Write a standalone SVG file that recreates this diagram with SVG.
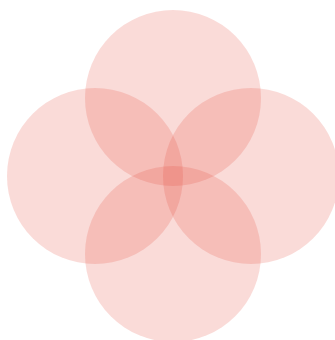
<svg xmlns="http://www.w3.org/2000/svg" width="335" height="340" viewBox="0 0 335 340">
<style>
.c{fill:#e74c3c;fill-opacity:0.2;stroke:none}
</style>
<rect width="335" height="340" fill="#ffffff"/>
<g id="top"><circle class="c" cx="173" cy="98" r="88"/></g>
<g id="left"><circle class="c" cx="95" cy="176" r="88"/></g>
<g id="right"><circle class="c" cx="251" cy="176" r="88"/></g>
<g id="bottom"><circle class="c" cx="173" cy="254" r="88"/></g>
<g id="connectors"></g>
</svg>
